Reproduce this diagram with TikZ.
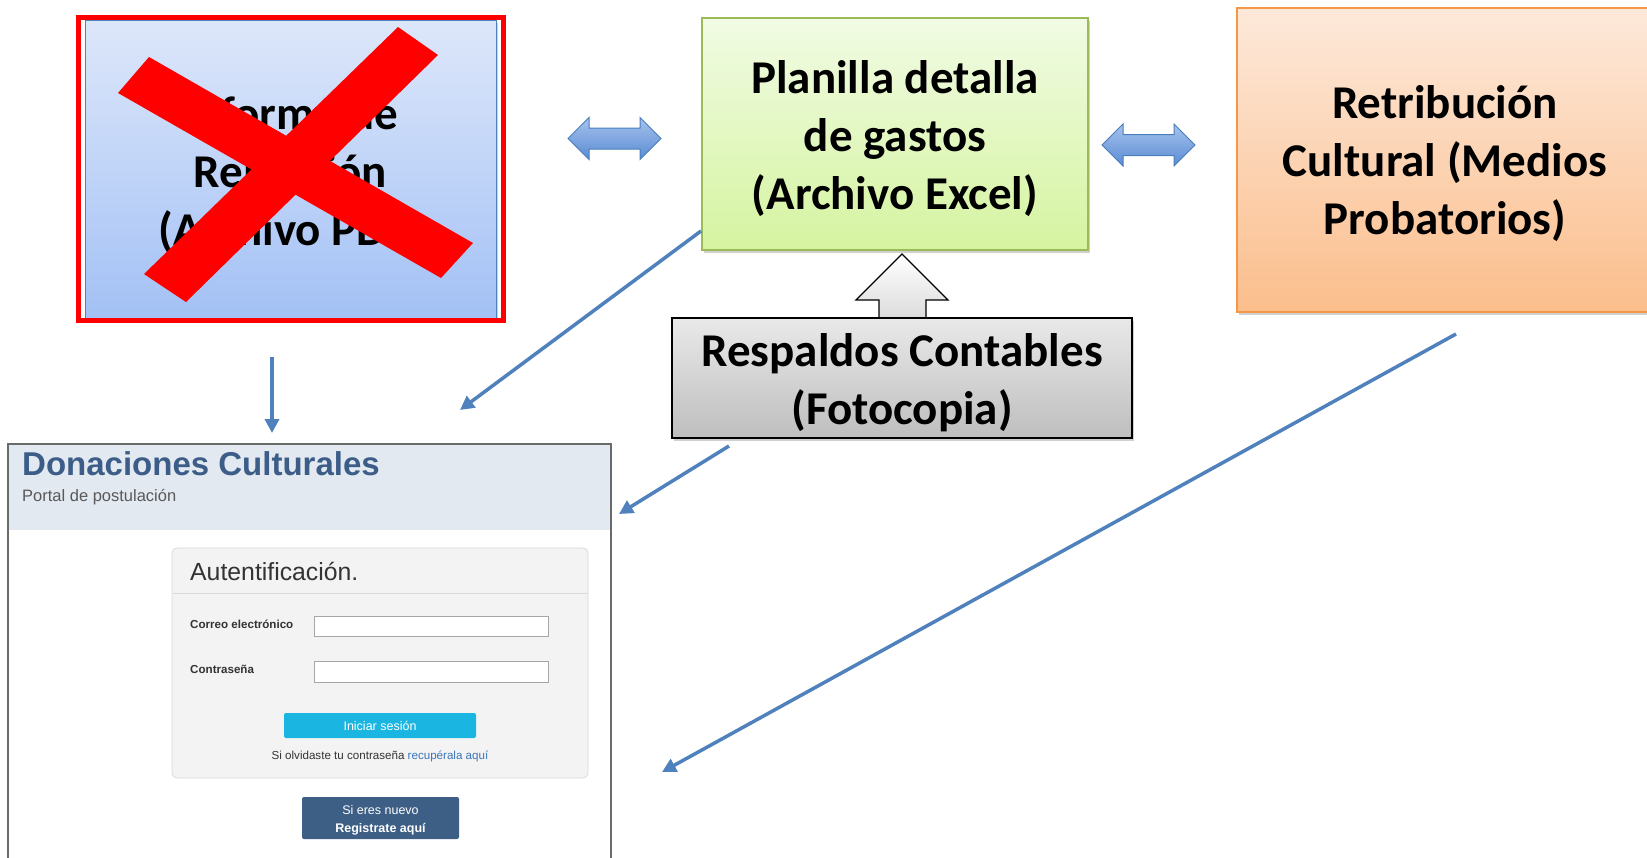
\documentclass[tikz,border=0pt]{standalone}
\usepackage{fontspec}
\newfontfamily\carl{Carlito}
\newfontfamily\arl{Liberation Sans}
\usetikzlibrary{arrows.meta,shadows,calc}
\definecolor{lineblue}{HTML}{4F81BD}
\definecolor{dblborder}{HTML}{4A7EBB}
\definecolor{dbltop}{HTML}{A6C3EE}
\definecolor{dblbot}{HTML}{5A8BD2}
\definecolor{infotop}{HTML}{DDE7FA}
\definecolor{infobot}{HTML}{A3C1F5}
\definecolor{boxblue}{HTML}{4F81BD}
\definecolor{xred}{HTML}{FF0000}
\definecolor{greentop}{HTML}{F1FBE4}
\definecolor{greenbot}{HTML}{D5F4A0}
\definecolor{greenborder}{HTML}{9BBB59}
\definecolor{orangetop}{HTML}{FDE9DA}
\definecolor{orangebot}{HTML}{FBBE8C}
\definecolor{orangeborder}{HTML}{F79646}
\definecolor{graytop}{HTML}{E9E9E9}
\definecolor{graybot}{HTML}{BEBEBE}
\definecolor{hdr}{HTML}{E2E9F1}
\definecolor{sborder}{HTML}{6A6A6A}
\definecolor{titleblue}{HTML}{3C5D88}
\definecolor{panelfill}{HTML}{F3F3F3}
\definecolor{panelborder}{HTML}{D9D9D9}
\definecolor{btncyan}{HTML}{1AB6E1}
\definecolor{btndark}{HTML}{3D5E85}
\definecolor{linkblue}{HTML}{3B75B6}
\definecolor{uitext}{HTML}{333333}
\begin{document}
\begin{tikzpicture}[x=1pt,y=-1pt,
  bigtxt/.style={font=\carl\bfseries\fontsize{47}{58}\selectfont, align=center, text=black, inner sep=0pt},
  conn/.style={draw=lineblue, line width=3.5pt, -{Triangle[length=14pt,width=14pt]}},
  dbl/.style={draw=dblborder, line width=1pt, top color=dbltop, bottom color=dblbot},
  shad/.style={drop shadow={shadow xshift=2pt, shadow yshift=-3pt, opacity=0.3, fill=black!60}},
  uilabel/.style={font=\arl\bfseries\fontsize{11.6}{13}\selectfont, text=uitext, inner sep=0pt, anchor=base west},
  uitxt/.style={font=\arl\fontsize{11.6}{13}\selectfont, text=uitext, inner sep=0pt, anchor=base},
  btntxt/.style={font=\arl\fontsize{12.5}{14}\selectfont, text=white, inner sep=0pt, anchor=base},
  inputbox/.style={draw=black!35, fill=white, line width=0.8pt},
]
\useasboundingbox (0,0) rectangle (1647,857);
\clip (0,0) rectangle (1647,857);
\fill[white] (0,0) rectangle (1647,857);

% ---- Informe box (crossed out)
\node[shad, draw=boxblue, line width=1pt, top color=infotop, bottom color=infobot,
      minimum width=411pt, minimum height=298pt, inner sep=0pt] (informe) at (290.5,169) {};
\node[bigtxt] (informetxt) at ($(informe.center)+(0,6)$) {Informe de\\Rendición\\(Archivo PDF)};
\draw[xred, line width=5pt] (78,17.5) rectangle (503,320.5);
\fill[xred] (118,93) -- (149,57) -- (473,243) -- (441,278) -- cycle;
\fill[xred] (144,274) -- (186,302) -- (438,55) -- (398,27) -- cycle;

% ---- Planilla box
\node[shad, draw=greenborder, line width=1.5pt, top color=greentop, bottom color=greenbot,
      minimum width=386pt, minimum height=232pt, inner sep=0pt] (planilla) at (895,134) {};
\node[bigtxt] (planillatxt) at ($(planilla.center)+(0,5)$) {Planilla detalla\\de gastos\\(Archivo Excel)};

% ---- Retribucion box
\node[shad, draw=orangeborder, line width=1.5pt, top color=orangetop, bottom color=orangebot,
      minimum width=416pt, minimum height=304pt, inner sep=0pt] (retrib) at (1445,160) {};
\node[bigtxt] (retribtxt) at ($(retrib.center)+(0,4)$) {Retribución\\Cultural (Medios\\Probatorios)};

% ---- block up arrow
\path[draw=black, line width=1.3pt, top color=white, bottom color=black!14]
  (902,254) -- (948,300) -- (926,300) -- (926,319) -- (879,319) -- (879,300) -- (856,300) -- cycle;

% ---- Respaldos box
\node[shad, draw=black, line width=2pt, top color=graytop, bottom color=graybot,
      minimum width=460pt, minimum height=120pt, inner sep=0pt] (respaldos) at (902,378) {};
\node[bigtxt] (respaldostxt) at ($(respaldos.center)+(0,5)$) {Respaldos Contables\\(Fotocopia)};

% ---- double arrows
\path[dbl] (568,138.5) -- (589,117.5) -- (589,128) -- (640,128) -- (640,117.5) -- (661,138.5)
  -- (640,159.5) -- (640,149) -- (589,149) -- (589,159.5) -- cycle;
\path[dbl] (1102,145) -- (1123,124) -- (1123,134.5) -- (1174,134.5) -- (1174,124) -- (1195,145)
  -- (1174,166) -- (1174,155.5) -- (1123,155.5) -- (1123,166) -- cycle;

% ---- portal screenshot
\node[draw=sborder, line width=1.5pt, fill=white, minimum width=603pt, minimum height=430pt,
      inner sep=0pt] (portal) at (309.5,659) {};
\fill[hdr] (8.75,444.75) rectangle (610.25,530);
\node[font=\arl\bfseries\fontsize{33}{36}\selectfont, text=titleblue, inner sep=0pt, anchor=base west]
  (title) at (22,475) {Donaciones Culturales};
\node[font=\arl\fontsize{16.5}{18}\selectfont, text=black!65, inner sep=0pt, anchor=base west]
  (subtitle) at (22,501) {Portal de postulación};

\node[draw=panelborder, fill=panelfill, rounded corners=5pt, line width=0.8pt,
      minimum width=416pt, minimum height=230pt, inner sep=0pt] (panel) at (380,663) {};
\draw[panelborder, line width=0.8pt] (172.5,593) -- (587.5,593);
\node[font=\arl\fontsize{24.8}{27}\selectfont, text=uitext, inner sep=0pt, anchor=base west]
  (auth) at (190,580) {Autentificación.};
\node[uilabel] (lmail) at (190,628) {Correo electrónico};
\node[uilabel] (lpass) at (190,673) {Contraseña};
\node[inputbox, minimum width=234pt, minimum height=20pt, inner sep=0pt] (imail) at (431,626) {};
\node[inputbox, minimum width=234pt, minimum height=21pt, inner sep=0pt] (ipass) at (431,671.5) {};
\node[fill=btncyan, rounded corners=2pt, minimum width=192pt, minimum height=25pt, inner sep=0pt]
  (login) at (380,725.5) {};
\node[btntxt] (logintxt) at (380,730) {Iniciar sesión};
\node[uitxt] (forgot) at (380,759) {Si olvidaste tu contraseña \textcolor{linkblue}{recupérala aquí}};
\node[fill=btndark, rounded corners=2pt, minimum width=157pt, minimum height=42pt, inner sep=0pt]
  (register) at (380.5,818) {};
\node[btntxt] (reg1) at (380.5,814) {Si eres nuevo};
\node[btntxt, font=\arl\bfseries\fontsize{12.5}{14}\selectfont] (reg2) at (380.5,832) {Registrate aquí};

% ---- connectors
\coordinate (c1s) at (272,357);
\coordinate (c1e) at (272,433);
\coordinate (c2s) at (701,231);
\coordinate (c2e) at (460,410);
\coordinate (c3s) at (729,446);
\coordinate (c3e) at (619,514);
\coordinate (c4s) at (1456,334);
\coordinate (c4e) at (662,772);
\draw[conn] (c1s) -- (c1e);
\draw[conn] (c2s) -- (c2e);
\draw[conn] (c3s) -- (c3e);
\draw[conn] (c4s) -- (c4e);
\end{tikzpicture}
\end{document}
